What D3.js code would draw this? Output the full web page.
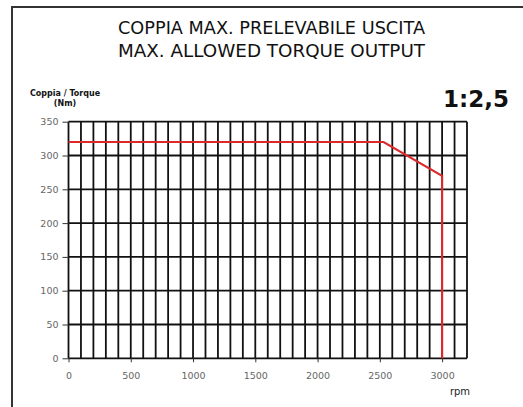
<!DOCTYPE html>
<html><head><meta charset="utf-8">
<script src="https://cdn.jsdelivr.net/npm/d3@7"></script>
<style>body{margin:0;background:#fff}svg{display:block}</style>
</head><body>
<script>
const titleLines = ["COPPIA MAX. PRELEVABILE USCITA", "MAX. ALLOWED TORQUE OUTPUT"];
const yLabelLines = ["Coppia / Torque", "(Nm)"];
const ratioLabel = "1:2,5";
const xUnit = "rpm";
const rpm = [0, 2530, 3000, 3000];
const torque = [320, 320, 270, 0];
const xTicks = [0, 500, 1000, 1500, 2000, 2500, 3000];
const yTicks = [0, 50, 100, 150, 200, 250, 300, 350];
const xGrid = d3.range(0, 3201, 100);

const W = 523, H = 407;
const svg = d3.select("body").append("svg").attr("width", W).attr("height", H);

// frame
svg.append("path").attr("d", `M12,${H} L12,7 L${W},7`).attr("fill","none").attr("stroke","#333").attr("stroke-width",2);

const x = d3.scaleLinear().domain([0, 3200]).range([68.5, 467]);
const y = d3.scaleLinear().domain([0, 350]).range([358.3, 121.7]);

// title
svg.append("g").selectAll("text").data(titleLines).join("text")
  .attr("x", 271.5).attr("y", (d,i)=>33.5+i*23.5)
  .attr("text-anchor","middle").attr("font-family","DejaVu Sans, sans-serif")
  .attr("font-size",17).attr("fill","#111")
  .attr("textLength",307).attr("lengthAdjust","spacingAndGlyphs")
  .text(d=>d);

// y label
svg.append("g").selectAll("text").data(yLabelLines).join("text")
  .attr("x", 65).attr("y", (d,i)=>96+i*10)
  .attr("text-anchor","middle").attr("font-family","DejaVu Sans, sans-serif")
  .attr("font-weight","bold").attr("font-size",8).attr("fill","#111")
  .text(d=>d);

svg.append("text").attr("x",509).attr("y",107).attr("text-anchor","end")
  .attr("font-family","DejaVu Sans, sans-serif").attr("font-weight","bold")
  .attr("font-size",23).attr("fill","#111").text(ratioLabel);

// grid
const g = svg.append("g");
g.selectAll(".vg").data(xGrid).join("line")
  .attr("x1",d=>x(d)).attr("x2",d=>x(d)).attr("y1",y(0)).attr("y2",y(350))
  .attr("stroke","#111").attr("stroke-width",1.8);
g.selectAll(".hg").data(yTicks).join("line")
  .attr("x1",x(0)).attr("x2",x(3200)).attr("y1",d=>y(d)).attr("y2",d=>y(d))
  .attr("stroke","#111").attr("stroke-width",1.8);

// axes
const yAxis = svg.append("g").attr("transform",`translate(${x(0)},0)`)
  .call(d3.axisLeft(y).tickValues(yTicks).tickSize(6).tickPadding(4).tickFormat(d3.format("d")));
const xAxis = svg.append("g").attr("transform",`translate(0,${y(0)})`)
  .call(d3.axisBottom(x).tickValues(xTicks).tickSize(4).tickPadding(10).tickFormat(d3.format("d")));
[yAxis, xAxis].forEach(a=>{
  a.select(".domain").remove();
  a.selectAll("line").attr("stroke","#333");
  a.selectAll("text").attr("font-family","DejaVu Sans, sans-serif").attr("font-size",9.5).attr("fill","#666");
});

svg.append("text").attr("x",460).attr("y",395).attr("text-anchor","middle")
  .attr("font-family","DejaVu Sans, sans-serif").attr("font-size",10).attr("fill","#222").text(xUnit);

// curve
const line = d3.line().x((d,i)=>x(rpm[i])).y((d,i)=>y(torque[i]));
svg.append("path").datum(rpm).attr("d",line).attr("fill","none")
  .attr("stroke","#dc2a2c").attr("stroke-width",2.2).attr("stroke-linejoin","miter");
</script>
</body></html>
